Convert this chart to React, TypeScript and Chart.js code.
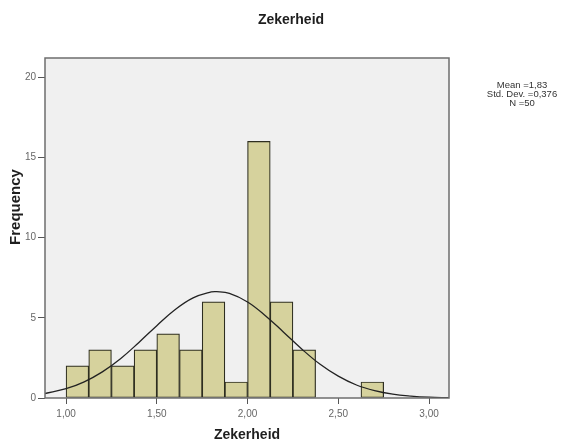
import { useEffect, useRef } from 'react';
import { Chart, registerables } from 'chart.js';

Chart.register(...registerables);

// Histogram bins (width 0.125), centers and counts
const binCenters = [1.0625, 1.1875, 1.3125, 1.4375, 1.5625, 1.6875, 1.8125, 1.9375, 2.0625, 2.1875, 2.3125, 2.6875];
const frequencies = [2, 3, 2, 3, 4, 3, 6, 1, 16, 6, 3, 1];

// Normal curve points
const curveX = [0.884, 1.0, 1.1, 1.2, 1.3, 1.4, 1.5, 1.6, 1.7, 1.8, 1.83, 1.9, 2.0, 2.1, 2.2, 2.3, 2.4, 2.5, 2.6, 2.7, 2.8, 2.9, 3.0, 3.11];
const curveY = [0.28, 0.58, 1.01, 1.63, 2.45, 3.45, 4.51, 5.5, 6.24, 6.61, 6.63, 6.52, 5.99, 5.12, 4.09, 3.04, 2.1, 1.36, 0.81, 0.46, 0.24, 0.12, 0.05, 0.02];

const xTicks = [1.0, 1.5, 2.0, 2.5, 3.0];
const yTicks = [0, 5, 10, 15, 20];

const chartTitle = 'Zekerheid';
const xTitle = 'Zekerheid';
const yTitle = 'Frequency';
const statsLines = ['Mean =1,83', 'Std. Dev. =0,376', 'N =50'];

const FONT = "'Liberation Sans', Arial, sans-serif";

const spssPlugin = {
  id: 'spssDecor',
  beforeDraw(chart: any) {
    const { ctx, chartArea: a } = chart;
    ctx.save();
    ctx.fillStyle = '#f0f0f0';
    ctx.fillRect(a.left, a.top, a.right - a.left, a.bottom - a.top);
    ctx.restore();
  },
  afterDraw(chart: any) {
    const { ctx, chartArea: a } = chart;
    ctx.save();
    // frame
    ctx.strokeStyle = '#6e6e6e';
    ctx.lineWidth = 1.5;
    ctx.strokeRect(a.left, a.top, a.right - a.left, a.bottom - a.top);
    // title
    ctx.fillStyle = '#1e1e1e';
    ctx.font = `bold 14px ${FONT}`;
    ctx.textAlign = 'center';
    ctx.textBaseline = 'middle';
    ctx.fillText(chartTitle, 291, 20);
    // stats box
    ctx.font = `9.5px ${FONT}`;
    ctx.fillStyle = '#333';
    statsLines.forEach((t, i) => ctx.fillText(t, 522, 85 + i * 9.3));
    // y title
    ctx.translate(15.5, 207);
    ctx.rotate(-Math.PI / 2);
    ctx.font = `bold 15px ${FONT}`;
    ctx.fillStyle = '#1e1e1e';
    ctx.fillText(yTitle, 0, 0);
    ctx.restore();
  },
};

export default function App() {
  const ref = useRef<HTMLCanvasElement>(null);
  useEffect(() => {
    document.body.style.margin = '0';
    const canvas = ref.current!;
    const chart = new Chart(canvas, {
      type: 'bar',
      data: {
        datasets: [
          {
            type: 'line',
            data: curveX.map((x, i) => ({ x, y: curveY[i] })),
            borderColor: '#222',
            borderWidth: 1.3,
            pointRadius: 0,
            tension: 0.4,
            fill: false,
            order: 0,
          } as any,
          {
            type: 'bar',
            data: binCenters.map((x, i) => ({ x, y: frequencies[i] })),
            backgroundColor: '#d6d29d',
            borderColor: '#2e2e20',
            borderWidth: 1.2,
            borderSkipped: false,
            barPercentage: 1,
            categoryPercentage: 1,
            order: 1,
          } as any,
        ],
      },
      options: {
        animation: false,
        responsive: false,
        layout: { padding: { top: 58, right: 121, left: 0, bottom: 0 } },
        plugins: {
          legend: { display: false },
          tooltip: { enabled: false },
          title: { display: false },
        },
        scales: {
          x: {
            type: 'linear',
            offset: false,
            min: 0.884,
            max: 3.11,
            afterBuildTicks: (s: any) => {
              s.ticks = xTicks.map((v) => ({ value: v }));
            },
            afterFit: (s: any) => {
              s.height = 49;
            },
            ticks: {
              callback: (v: any) => Number(v).toFixed(2).replace('.', ','),
              font: { family: FONT, size: 10 },
              color: '#666',
              maxRotation: 0,
              autoSkip: false,
              padding: 4,
            },
            grid: { offset: false, drawOnChartArea: false, drawTicks: true, tickLength: 6, color: '#555' },
            border: { display: false },
            title: {
              display: true,
              text: xTitle,
              font: { family: FONT, size: 14, weight: 'bold' },
              color: '#1e1e1e',
              padding: { top: 0, bottom: 3 },
            },
          },
          y: {
            type: 'linear',
            min: 0,
            max: 21.2,
            afterBuildTicks: (s: any) => {
              s.ticks = yTicks.map((v) => ({ value: v }));
            },
            afterFit: (s: any) => {
              s.width = 45;
            },
            ticks: {
              font: { family: FONT, size: 10 },
              color: '#666',
              padding: 2,
            },
            grid: { drawOnChartArea: false, drawTicks: true, tickLength: 7, color: '#555' },
            border: { display: false },
          },
        },
      },
      plugins: [spssPlugin],
    });
    return () => chart.destroy();
  }, []);
  return <canvas ref={ref} width={570} height={447} style={{ display: 'block' }} />;
}
